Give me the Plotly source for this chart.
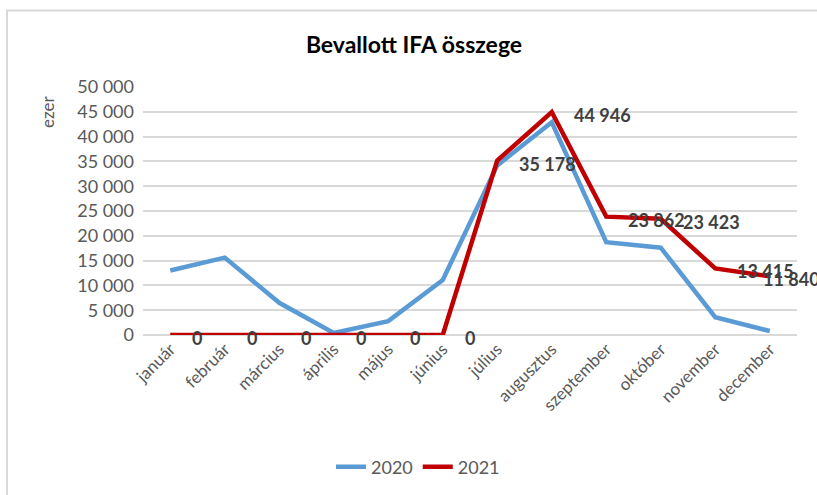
import plotly.graph_objects as go

months = [
    "január", "február", "március", "április", "május", "június",
    "július", "augusztus", "szeptember", "október", "november", "december",
]
values_2020 = [13000, 15600, 6500, 400, 2800, 11100, 34200, 42900, 18700, 17600, 3600, 800]
values_2021 = [0, 0, 0, 0, 0, 0, 35178, 44946, 23862, 23423, 13415, 11840]
y_ticks = list(range(0, 50001, 5000))

BLUE = "#5B9BD5"
RED = "#C00000"
GRID = "#D9D9D9"
TEXT = "#595959"
FONT = "Lato, 'Open Sans', sans-serif"

# the last label is pulled back left so it stays inside the chart (as Excel does)
LABEL_XSHIFT = [20] * 11 + [-9]


def fmt(v):
    return f"{v:,}".replace(",", " ")


fig = go.Figure()
fig.add_trace(
    go.Scatter(
        x=months, y=values_2020, mode="lines", name="2020",
        line={"color": BLUE, "width": 4.5},
    )
)
fig.add_trace(
    go.Scatter(
        x=months, y=values_2021, mode="lines", name="2021",
        line={"color": RED, "width": 4.5},
    )
)

# data labels for 2021, right of each point
for m, v, dx in zip(months, values_2021, LABEL_XSHIFT):
    fig.add_annotation(
        x=m, y=v, text=fmt(v), showarrow=False,
        xanchor="left", yanchor="middle", xshift=dx, yshift=-3,
        font={"family": FONT, "size": 18, "color": "#404040", "weight": "bold"},
    )

# y axis title at the top of the axis
fig.add_annotation(
    xref="paper", yref="paper", x=-0.146, y=0.97, text="ezer",
    textangle=-90, showarrow=False, xanchor="center", yanchor="top",
    font={"family": FONT, "size": 17, "color": TEXT},
)

# chart border
fig.add_shape(
    type="rect", xref="paper", yref="paper",
    x0=-0.208, x1=1.04, y0=-0.7, y1=1.308,
    line={"color": GRID, "width": 2}, fillcolor="rgba(0,0,0,0)",
)

fig.update_layout(
    width=817, height=495,
    margin={"l": 143, "r": 20, "t": 87, "b": 160, "autoexpand": False},
    paper_bgcolor="white", plot_bgcolor="white",
    font={"family": FONT, "color": TEXT, "size": 17},
    title={
        "text": "<b>Bevallott IFA összege</b>",
        "x": 414 / 817, "xref": "container", "xanchor": "center",
        "y": 1 - 45 / 495, "yanchor": "middle",
        "font": {"family": FONT, "size": 23, "color": "#000000"},
    },
    xaxis={
        "tickangle": -45, "showgrid": False, "showline": False,
        "ticks": "", "tickfont": {"size": 17, "color": TEXT},
        "range": [-0.5, 11.5], "automargin": False,
    },
    yaxis={
        "range": [0, 50000], "tickvals": y_ticks,
        "ticktext": [fmt(t) for t in y_ticks],
        "showgrid": True, "gridcolor": GRID, "gridwidth": 1.5,
        "zeroline": True, "zerolinecolor": GRID, "zerolinewidth": 1.5,
        "tickfont": {"size": 18, "color": TEXT}, "ticklabelstandoff": 8,
        "automargin": False,
    },
    legend={
        "orientation": "h", "x": 418 / 817, "xref": "container", "xanchor": "center",
        "y": -0.532, "yanchor": "middle",
        "font": {"size": 18, "color": TEXT},
    },
    showlegend=True,
)

# drop the browser's default 8px body margin so the figure sits at the page corner
fig.write_html(
    "out.html",
    config={"displayModeBar": False},
    post_script="document.body.style.margin = '0';",
)
